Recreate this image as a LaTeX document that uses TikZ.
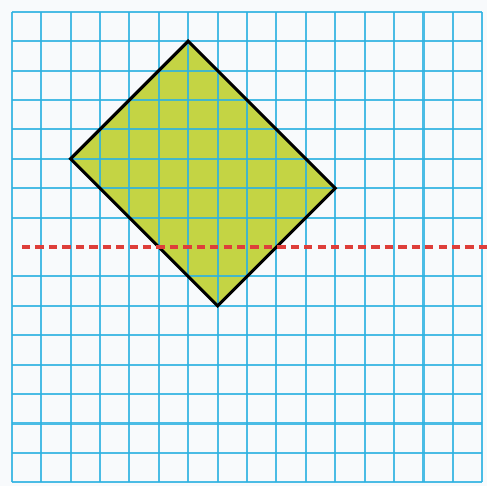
\documentclass[tikz,border=0pt]{standalone}
\usepackage{xcolor}
\usepackage{tikz}
\definecolor{gridblue}{RGB}{45,178,225}
\definecolor{shapegreen}{RGB}{196,212,68}
\definecolor{axisred}{RGB}{222,62,58}
\definecolor{paper}{RGB}{248,250,252}

\begin{document}
\begin{tikzpicture}[
  gridline/.style={gridblue,line width=2pt,opacity=0.85},
  outline/.style={draw=black,line width=3pt,line join=miter},
  symline/.style={draw=axisred,line width=3.4pt,dash pattern=on 8pt off 5pt},
]
  \useasboundingbox[fill=paper] (-0.4,-0.13) rectangle (16.16,16.4);

  % corners of the rectangle
  \coordinate (top) at (6,15);
  \coordinate (left) at (2,11);
  \coordinate (bottom) at (7,6);
  \coordinate (right) at (11,10);

  \fill[shapegreen] (top) -- (left) -- (bottom) -- (right) -- cycle;

  \foreach \i in {0,...,16} {
    \draw[gridline] (\i,0) -- (\i,16);
    \ifnum\i=8 \else
      \draw[gridline] (0,\i) -- (16,\i);
    \fi
  }

  \draw[outline] (top) -- (left) -- (bottom) -- (right) -- cycle;

  % line of symmetry
  \coordinate (axstart) at (0.35,8);
  \coordinate (axend) at (16.3,8);
  \draw[symline] (axstart) -- (axend);
\end{tikzpicture}
\end{document}
